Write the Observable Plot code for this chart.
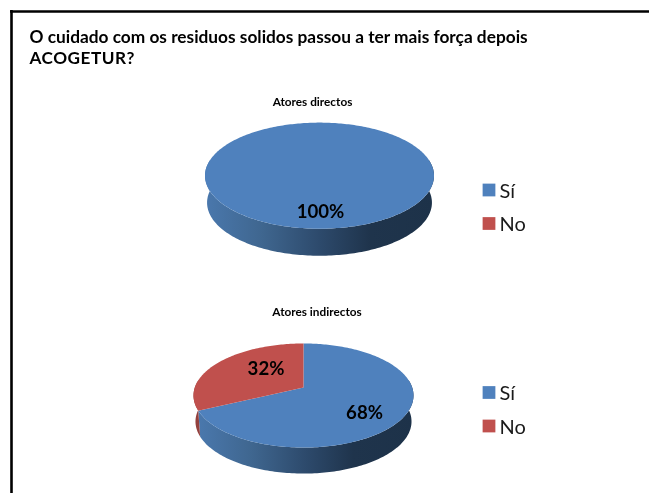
<!DOCTYPE html>
<html>
<head>
<meta charset="utf-8">
<script src="https://cdn.jsdelivr.net/npm/d3@7"></script>
<script src="https://cdn.jsdelivr.net/npm/@observablehq/plot@0.6"></script>
<style>
html,body{margin:0;padding:0;background:#fff}
svg{display:block}
svg text{filter:blur(.3px)}
.title-caps text{letter-spacing:.5px}
</style>
</head>
<body>
<div id="chart"></div>
<script>
// Data
const titleLines = ["O cuidado com os residuos solidos passou a ter mais força depois", "ACOGETUR?"];
const categories = ["Sí", "No"];
const pieNames = ["Atores directos", "Atores indirectos"];
const directos = [100, 0];
const indirectos = [68, 32];
const sliceColors = ["#4f81bd", "#c0504d"];

// Layout (pixels in the 649x493 picture)
const W = 649, H = 493;
const pieLayouts = [
  {cx: 319, apexY: 167, rx: 114.5, ryFace: 51.8, depth: 27, nameX: 312, nameY: 102, legendY: [189.5, 223], labels: [[320, 212]]},
  {cx: 303, apexY: 387, rx: 110, ryFace: 50.8, depth: 26, nameX: 316.5, nameY: 312, legendY: [392, 425.5], labels: [[364, 413], [265.5, 369]]}
];
const persp = 0.154;
const rimNarrow = 0.982;

// Disc point at angle a (radians clockwise from top), with perspective foreshortening
function project(p, a, r = 1) {
  const u = Math.sin(a) * r, v = -Math.cos(a) * r, w = 1 - persp * v;
  return {x: p.cx + p.rx * Math.sqrt(1 - persp * persp) * u / w, y: p.apexY + p.ryFace * v / w};
}
function arc(p, a0, a1) {
  const n = Math.max(2, Math.ceil(Math.abs(a1 - a0) / 0.02));
  return d3.range(n + 1).map(i => project(p, a0 + (a1 - a0) * i / n));
}

const faces = [], sides = [], labelRows = [], legendRows = [], nameRows = [];
[directos, indirectos].forEach((values, k) => {
  const p = pieLayouts[k];
  const total = d3.sum(values);
  let start = 0;
  let lab = 0;
  values.forEach((val, i) => {
    legendRows.push({category: categories[i], x: 488.5, y: p.legendY[i]});
    if (!val) return;
    const a0 = start, a1 = start + val / total * 2 * Math.PI;
    start = a1;
    const key = `${k}-${i}`;
    const rim = arc(p, a0, a1);
    const pts = val === total ? rim : [{x: p.cx, y: p.apexY}, ...rim];
    pts.forEach(d => faces.push({...d, key, category: categories[i]}));
    // visible rim: the front half of the disc, offset downward and slightly narrower
    const lo = Math.max(a0, Math.PI / 2), hi = Math.min(a1, 3 * Math.PI / 2);
    const extra = Math.asin(persp);
    const lo2 = a0 <= Math.PI / 2 ? Math.PI / 2 - extra : lo;
    const hi2 = a1 >= 3 * Math.PI / 2 ? 3 * Math.PI / 2 + extra : hi;
    if (hi2 > lo2) {
      const front = arc(p, lo2, hi2);
      const back = front.slice().reverse().map(d => ({x: p.cx + (d.x - p.cx) * rimNarrow, y: d.y + p.depth}));
      [...front, ...back].forEach(d => sides.push({...d, key, category: categories[i]}));
    }
    const [lx, ly] = p.labels[lab++];
    labelRows.push({x: lx, y: ly, text: `${val}%`});
  });
  nameRows.push({x: p.nameX, y: p.nameY, text: pieNames[k]});
});

const FONT = "Lato, 'Open Sans', sans-serif";
const gradient = () => {
  const s = d3.create("svg:defs");
  const g = s.append("linearGradient").attr("id", "rimBlue").attr("x1", 0).attr("x2", 1).attr("y1", 0).attr("y2", 0);
  [[0, "#4a78ad"], [0.25, "#3f668f"], [0.5, "#2d4a6c"], [0.72, "#1f344c"], [1, "#1d3249"]].forEach(([o, c]) =>
    g.append("stop").attr("offset", o).attr("stop-color", c));
  return s.node();
};

const chart = Plot.plot({
  width: W, height: H, margin: 0,
  style: {background: "#fff", fontFamily: FONT, overflow: "hidden"},
  x: {domain: [0, W], range: [0, W], axis: null},
  y: {domain: [0, H], range: [0, H], axis: null},
  color: {domain: categories, range: sliceColors},
  marks: [
    gradient,
    // frame on the top and left
    Plot.ruleY([11], {x1: 10, x2: W, stroke: "#000", strokeWidth: 2.6}),
    Plot.ruleX([11], {y1: 10, y2: H, stroke: "#000", strokeWidth: 2.6}),
    // 3D rim
    Plot.line(sides.filter(d => d.category === "Sí"), {x: "x", y: "y", z: "key", fill: "url(#rimBlue)", stroke: "none"}),
    Plot.line(sides.filter(d => d.category === "No"), {x: "x", y: "y", z: "key", fill: "#93403d", stroke: "none"}),
    // top faces
    Plot.line(faces, {x: "x", y: "y", z: "key", fill: "category", stroke: "none"}),
    // title
    Plot.text(titleLines.slice(0, 1), {x: 29, y: 37, text: d => d, textAnchor: "start", fontSize: 17.3, fontWeight: 700, fill: "#000"}),
    Plot.text(titleLines.slice(1), {x: 29, y: 58, text: d => d, textAnchor: "start", fontSize: 17.2, fontWeight: 700, fill: "#000", className: "title-caps"}),
    Plot.text(nameRows, {x: "x", y: "y", text: "text", fontSize: 11.8, fontWeight: 700, fill: "#000"}),
    Plot.text(labelRows, {x: "x", y: "y", text: "text", fontSize: 18.6, fontWeight: 700, fill: "#000"}),
    // legends
    Plot.dot(legendRows, {x: "x", y: "y", symbol: "square", r: 7.2, fill: "category", stroke: "none"}),
    Plot.text(legendRows, {x: d => d.x + 10.5, y: d => d.y + 1.5, text: "category", textAnchor: "start", fontSize: 20, fill: "#1a1a1a"})
  ]
});
document.getElementById("chart").append(chart);
</script>
</body>
</html>
